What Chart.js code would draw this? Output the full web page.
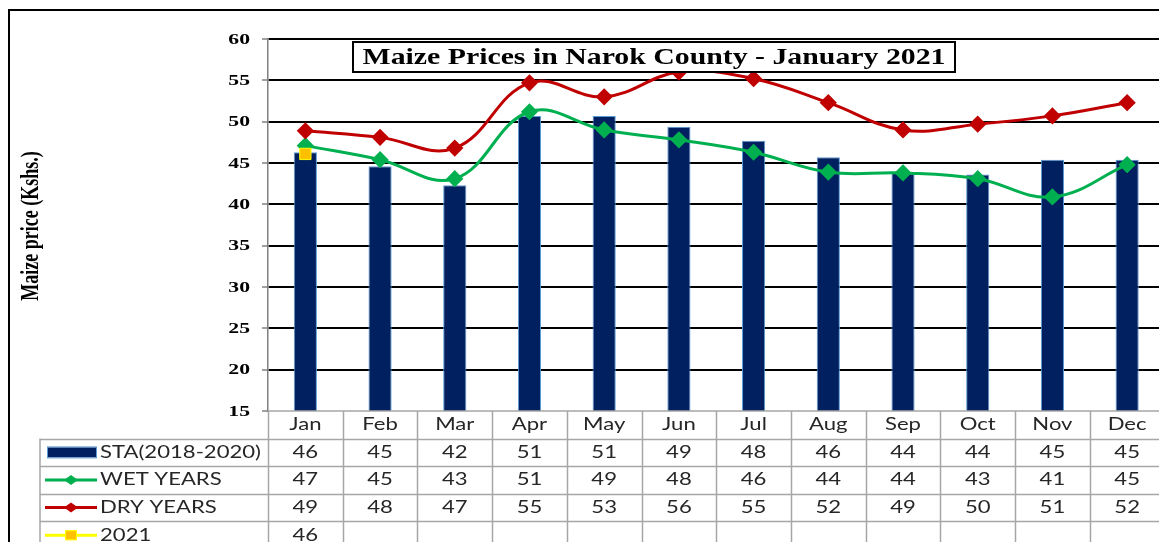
<!DOCTYPE html>
<html><head><meta charset="utf-8">
<script src="https://cdn.jsdelivr.net/npm/chart.js@4.4.1/dist/chart.umd.min.js"></script>
<style>html,body{margin:0;padding:0;background:#fff;overflow:hidden;width:1159px;height:542px}canvas{display:block}</style>
</head><body><canvas id="c" width="1174" height="542"></canvas>
<script>
const TITLE = 'Maize Prices in Narok County - January 2021';
const Y_TITLE = 'Maize price (Kshs.)';
const months = ['Jan','Feb','Mar','Apr','May','Jun','Jul','Aug','Sep','Oct','Nov','Dec'];
const staLabel = 'STA(2018-2020)';
const sta = [46.3,44.6,42.3,50.7,50.7,49.4,47.7,45.7,43.8,43.6,45.4,45.4];
const wetLabel = 'WET YEARS';
const wet = [47.1,45.4,43.1,51.2,49.0,47.8,46.3,43.9,43.8,43.1,40.9,44.8];
const dryLabel = 'DRY YEARS';
const dry = [48.9,48.1,46.8,54.7,53.0,56.0,55.2,52.3,49.0,49.7,50.7,52.3];
const y2021Label = '2021';
const y2021 = [46.1,null,null,null,null,null,null,null,null,null,null,null];
const yMin = 15, yMax = 60, yStep = 5;

const NAVY = '#002060', BAR_EDGE = '#5b9bd5', GREEN = '#00b050', RED = '#c00000', GOLD = '#ffc000', YEL = '#ffff00';
const TABLE_FONT = '17px Lato';
const TEXT_SX = 1.3;
const ROW_H = 27.6;
const LEG_LEFT = 40;

function sText(ctx, t, x, y, align, sx) {
  ctx.save(); ctx.translate(x, y); ctx.scale(sx, 1);
  ctx.textAlign = align; ctx.fillText(t, 0, 0); ctx.restore();
}

const framePlugin = {
  id: 'frame',
  beforeDraw(chart) {
    const ctx = chart.ctx;
    ctx.save();
    ctx.fillStyle = '#fff'; ctx.fillRect(0, 0, chart.width, chart.height);
    ctx.strokeStyle = '#000'; ctx.lineWidth = 2;
    ctx.beginPath(); ctx.moveTo(9, chart.height); ctx.lineTo(9, 10); ctx.lineTo(chart.width, 10); ctx.stroke();
    ctx.restore();
  },
  afterDraw(chart) {
    const ctx = chart.ctx, xs = chart.scales.x, ys = chart.scales.y, ca = chart.chartArea;
    const cw = xs.getPixelForValue(1) - xs.getPixelForValue(0);
    ctx.save();
    // y tick labels (from the library's scale ticks)
    ctx.fillStyle = '#000'; ctx.font = 'bold 14px "Liberation Serif"'; ctx.textBaseline = 'middle';
    ys.ticks.forEach(t => sText(ctx, String(t.value), ca.left - 18, ys.getPixelForValue(t.value) + 1, 'right', 1.55));
    // y axis title
    ctx.save();
    ctx.translate(31, (ca.top + ca.bottom) / 2 + 1);
    ctx.rotate(-Math.PI / 2);
    ctx.scale(1, 1.45);
    ctx.font = 'bold 18px "Liberation Serif"'; ctx.textAlign = 'center'; ctx.textBaseline = 'middle';
    ctx.fillText(Y_TITLE, 0, 0);
    ctx.restore();
    // table grid
    ctx.strokeStyle = '#a6a6a6'; ctx.lineWidth = 1.5;
    ctx.beginPath();
    ctx.moveTo(ca.left, ca.bottom); ctx.lineTo(chart.width, ca.bottom);
    for (let i = 1; i <= 4; i++) {
      const y = Math.round(ca.bottom + i * ROW_H) + 0.5;
      ctx.moveTo(LEG_LEFT, y); ctx.lineTo(chart.width, y);
    }
    ctx.moveTo(LEG_LEFT, ca.bottom + ROW_H); ctx.lineTo(LEG_LEFT, chart.height);
    for (let k = 0; k <= months.length; k++) {
      const x = Math.round(xs.getPixelForValue(0) - cw / 2 + k * cw) + 0.5;
      ctx.moveTo(x, ca.bottom); ctx.lineTo(x, chart.height);
    }
    ctx.stroke();
    // text
    ctx.fillStyle = '#262626'; ctx.font = TABLE_FONT; ctx.textBaseline = 'middle';
    const rowC = i => ca.bottom + ROW_H * i + ROW_H / 2;
    months.forEach((m, j) => sText(ctx, m, xs.getPixelForValue(j), rowC(0), 'center', TEXT_SX));
    const series = [[staLabel, sta], [wetLabel, wet], [dryLabel, dry], [y2021Label, y2021]];
    series.forEach(([lab, arr], r) => {
      const yc = rowC(r + 1);
      arr.forEach((v, j) => { if (v != null) sText(ctx, String(Math.round(v)), xs.getPixelForValue(j), yc, 'center', TEXT_SX); });
      sText(ctx, lab, 100, yc, 'left', TEXT_SX);
    });
    // legend keys
    let yc = rowC(1);
    ctx.fillStyle = NAVY; ctx.fillRect(47, yc - 5, 49, 10);
    ctx.strokeStyle = BAR_EDGE; ctx.lineWidth = 1; ctx.strokeRect(47.5, yc - 5.5, 49, 11);
    const lineKey = (y, col, mcol, mode) => {
      ctx.strokeStyle = col; ctx.lineWidth = 3;
      ctx.beginPath(); ctx.moveTo(45, y); ctx.lineTo(97, y); ctx.stroke();
      ctx.fillStyle = mcol;
      ctx.beginPath();
      if (mode === 'd') { ctx.moveTo(71 - 7, y); ctx.lineTo(71, y - 5); ctx.lineTo(71 + 7, y); ctx.lineTo(71, y + 5); ctx.closePath(); ctx.fill(); }
      else { ctx.fillRect(65, y - 5, 12, 10); ctx.strokeStyle = YEL; ctx.lineWidth = 1; ctx.strokeRect(65.5, y - 4.5, 11, 9); }
    };
    lineKey(rowC(2), GREEN, GREEN, 'd');
    lineKey(rowC(3), RED, RED, 'd');
    lineKey(rowC(4), YEL, GOLD, 's');
    // title box
    ctx.font = 'bold 23px "Liberation Serif"';
    const tw = ctx.measureText(TITLE).width;
    const bx = 353, by = 42, bw = 602, bh = 30;
    ctx.fillStyle = '#fff'; ctx.fillRect(bx, by, bw, bh);
    ctx.strokeStyle = '#000'; ctx.lineWidth = 2; ctx.strokeRect(bx, by, bw, bh);
    ctx.fillStyle = '#000'; ctx.textBaseline = 'middle';
    sText(ctx, TITLE, bx + bw / 2, by + bh / 2 + 1, 'center', 583 / tw);
    ctx.restore();
  }
};

new Chart(document.getElementById('c'), {
  type: 'bar',
  data: {
    labels: months,
    datasets: [
      { type: 'line', label: y2021Label, data: y2021, order: -1, borderColor: YEL, backgroundColor: GOLD,
        pointStyle: 'rect', pointRadius: 8, pointBorderColor: YEL, pointBackgroundColor: GOLD, pointBorderWidth: 1, borderWidth: 3 },
      { type: 'line', label: dryLabel, data: dry, order: 0, borderColor: RED, backgroundColor: RED, borderWidth: 3,
        tension: 0.4, pointStyle: 'rectRot', pointRadius: 6.5, pointBackgroundColor: RED, pointBorderColor: RED },
      { type: 'line', label: wetLabel, data: wet, order: 0, borderColor: GREEN, backgroundColor: GREEN, borderWidth: 3,
        tension: 0.4, pointStyle: 'rectRot', pointRadius: 6.5, pointBackgroundColor: GREEN, pointBorderColor: GREEN },
      { type: 'bar', label: staLabel, data: sta, order: 1, backgroundColor: NAVY, borderColor: BAR_EDGE, borderWidth: 1,
        barPercentage: 0.31, categoryPercentage: 1 }
    ]
  },
  options: {
    responsive: false, animation: false, devicePixelRatio: 1,
    layout: { padding: { left: 0, top: 39, right: 0, bottom: 131 } },
    plugins: { legend: { display: false }, tooltip: { enabled: false }, title: { display: false } },
    scales: {
      x: { display: false, offset: true },
      y: {
        min: yMin, max: yMax,
        afterFit: s => { s.width = 268; },
        ticks: { stepSize: yStep, display: false },
        grid: {
          color: c => (c.tick && c.tick.value === yMin) ? 'rgba(0,0,0,0)' : '#000',
          lineWidth: 2, borderDash: [3, 3], drawTicks: true, tickLength: 6,
          tickColor: '#808080', tickWidth: 1.5, tickBorderDash: []
        },
        border: { display: true, color: '#808080', width: 1.5 },
        title: { display: false }
      }
    }
  },
  plugins: [framePlugin]
});
</script></body></html>
